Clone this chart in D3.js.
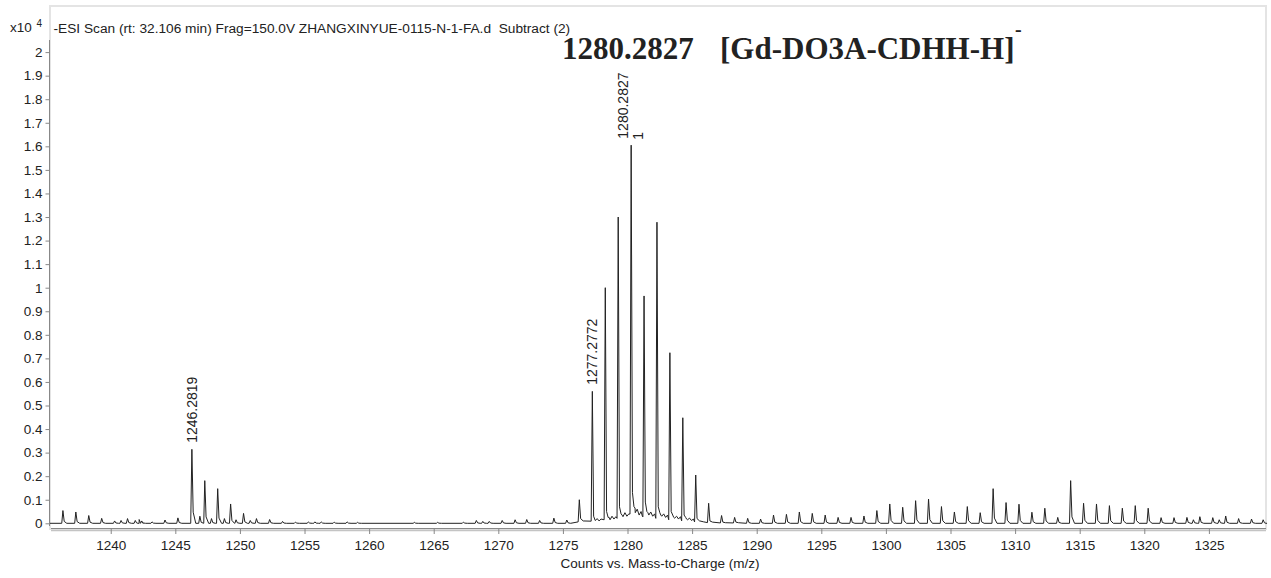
<!DOCTYPE html>
<html>
<head>
<meta charset="utf-8">
<script src="https://cdn.jsdelivr.net/npm/d3@7"></script>
<style>
  html, body { margin: 0; padding: 0; background: #fff; }
  svg { display: block; }
  text { font-family: "Liberation Sans", Arial, sans-serif; fill: #222; }
</style>
</head>
<body>
<svg id="chart" width="1271" height="578"></svg>
<script>
// ---------------- data (intensity in x10^4 counts) ----------------
const headerText = "-ESI Scan (rt: 32.106 min) Frag=150.0V ZHANGXINYUE-0115-N-1-FA.d  Subtract (2)";
const xTitle = "Counts vs. Mass-to-Charge (m/z)";
const xTicks = [1240, 1245, 1250, 1255, 1260, 1265, 1270, 1275, 1280, 1285, 1290, 1295, 1300, 1305, 1310, 1315, 1320, 1325];
const yTicks = [0, 0.1, 0.2, 0.3, 0.4, 0.5, 0.6, 0.7, 0.8, 0.9, 1, 1.1, 1.2, 1.3, 1.4, 1.5, 1.6, 1.7, 1.8, 1.9, 2];

// main isotope cluster [Gd-DO3A-CDHH-H]-
const clusterMz   = [1276.27, 1277.2772, 1278.28, 1279.28, 1280.2827, 1281.28, 1282.28, 1283.28, 1284.28, 1285.28, 1286.28, 1287.28, 1288.29];
const clusterH    = [0.10, 0.56, 1.00, 1.30, 1.605, 0.965, 1.278, 0.724, 0.448, 0.205, 0.085, 0.033, 0.025];
const clusterTail = [0.02, 0.03, 0.05, 0.07, 0.13, 0.09, 0.07, 0.05, 0.035, 0.02, 0.01, 0.005, 0.005];
// noisy raised floor inside the main cluster
const floorMz  = [1277.5, 1277.65, 1277.8, 1277.95, 1278.5, 1278.65, 1278.8, 1278.95, 1279.1,
  1279.5, 1279.65, 1279.8, 1279.95, 1280.1, 1280.5, 1280.6, 1280.75, 1280.9, 1281.05, 1281.15,
  1281.5, 1281.65, 1281.8, 1281.95, 1282.1, 1282.5, 1282.65, 1282.8, 1282.95, 1283.1,
  1283.5, 1283.65, 1283.8, 1283.95, 1284.1, 1284.5, 1284.65, 1284.8, 1284.95, 1285.1, 1285.6, 1285.9];
const floorVal = [0.012, 0.02, 0.01, 0.018, 0.025, 0.015, 0.03, 0.018, 0.028,
  0.04, 0.028, 0.045, 0.03, 0.04, 0.07, 0.045, 0.06, 0.035, 0.05, 0.03,
  0.05, 0.035, 0.048, 0.03, 0.04, 0.045, 0.03, 0.04, 0.025, 0.035,
  0.035, 0.022, 0.03, 0.018, 0.028, 0.025, 0.015, 0.022, 0.012, 0.018, 0.01, 0.006];

// other peaks across the scan
const minorMz = [1236.3, 1237.3, 1238.3, 1239.3, 1240.3, 1240.8, 1241.3, 1241.9, 1242.2, 1242.4, 1243.2, 1244.2, 1245.2,
  1246.2819, 1246.9, 1247.28, 1247.8, 1248.28, 1248.8, 1249.28, 1249.7, 1250.28, 1250.8, 1251.28, 1252.3, 1253.3, 1254.3, 1255.3, 1255.8, 1256.3, 1257.3, 1258.3, 1259.1,
  1263.5, 1265.3, 1267.3, 1268.3, 1268.8, 1269.3, 1270.3, 1271.3, 1272.2, 1273.2, 1274.3, 1275.3,
  1289.3, 1290.3, 1291.3, 1292.3, 1293.3, 1294.3, 1295.3, 1296.3, 1297.3, 1298.3, 1299.3, 1300.3, 1301.3, 1302.3, 1303.3, 1304.3, 1305.3, 1306.3, 1307.3, 1308.3, 1309.3, 1310.3, 1311.3, 1312.3, 1313.3,
  1314.3, 1315.3, 1316.3, 1317.3, 1318.3, 1319.3, 1320.3, 1321.3, 1322.3, 1323.3, 1323.8, 1324.3, 1325.3, 1325.8, 1326.3, 1327.3, 1328.3, 1329.2];
const minorH = [0.054, 0.048, 0.033, 0.021, 0.01, 0.012, 0.02, 0.012, 0.016, 0.01, 0.006, 0.014, 0.023,
  0.314, 0.03, 0.181, 0.02, 0.147, 0.02, 0.082, 0.015, 0.042, 0.012, 0.02, 0.016, 0.008, 0.005, 0.006, 0.006, 0.006, 0.005, 0.006, 0.004,
  0.004, 0.004, 0.005, 0.012, 0.008, 0.008, 0.012, 0.015, 0.016, 0.012, 0.022, 0.014,
  0.021, 0.018, 0.035, 0.038, 0.048, 0.042, 0.035, 0.025, 0.025, 0.031, 0.054, 0.082, 0.068, 0.096, 0.103, 0.071, 0.048, 0.071, 0.045, 0.147, 0.088, 0.081, 0.047, 0.064, 0.025,
  0.181, 0.085, 0.082, 0.075, 0.064, 0.075, 0.064, 0.024, 0.024, 0.025, 0.015, 0.028, 0.024, 0.015, 0.031, 0.02, 0.018, 0.015];

// peak annotations
const labelMz   = [1246.2819, 1277.2772, 1280.2827];
const labelText = ["1246.2819", "1277.2772", "1280.2827"];

// ---------------- chart ----------------
const svg = d3.select("#chart");
const x = d3.scaleLinear().domain([1235.3, 1329.42]).range([50, 1266]);
const y = d3.scaleLinear().domain([0, 2]).range([523.3, 52.1]);

// light frame
svg.append("rect").attr("x", 50).attr("y", 6).attr("width", 1216).attr("height", 523)
  .attr("fill", "none").attr("stroke", "#e4e4e4").attr("stroke-width", 2);

// build spectrum profile points from peaks
const pts = [];
const hwL = 0.09, hwR = 0.1, tailW = 0.3;
clusterMz.forEach((m, i) => {
  pts.push([m - hwL, clusterTail[i] * 0.3]);
  pts.push([m, clusterH[i]]);
  pts.push([m + hwR, clusterTail[i]]);
  pts.push([m + tailW, clusterTail[i] * 0.5]);
});
floorMz.forEach((m, i) => pts.push([m, floorVal[i]]));
minorMz.forEach((m, i) => {
  pts.push([m - hwL, 0]);
  pts.push([m, minorH[i]]);
  pts.push([m + hwR, minorH[i] * 0.15]);
  pts.push([m + tailW, 0]);
});
pts.push([x.domain()[0], 0], [x.domain()[1], 0]);
pts.sort((a, b) => a[0] - b[0]);

svg.append("path")
  .datum(pts)
  .attr("fill", "none")
  .attr("stroke", "#222")
  .attr("stroke-width", 1)
  .attr("stroke-linejoin", "round")
  .attr("d", d3.line().x(d => x(d[0])).y(d => y(d[1])));

// y axis
const yAxis = svg.append("g").attr("transform", "translate(49.5,0)")
  .call(d3.axisLeft(y).tickValues(yTicks).tickSize(4).tickPadding(3).tickFormat(d3.format("~g")));
yAxis.select(".domain").remove();
yAxis.append("line").attr("x1", 0).attr("x2", 0).attr("y1", 40).attr("y2", 526).attr("stroke", "#888");
yAxis.selectAll(".tick line").attr("stroke", "#888");
yAxis.selectAll(".tick text").attr("font-size", 13.5).attr("fill", "#222").attr("font-family", "Liberation Sans, Arial, sans-serif");

// x axis
svg.append("line").attr("x1", 51).attr("x2", 1266).attr("y1", 528.5).attr("y2", 528.5).attr("stroke", "#888").attr("stroke-width", 1);
svg.append("line").attr("x1", 51).attr("x2", 1266).attr("y1", 530.5).attr("y2", 530.5).attr("stroke", "#c4c4c4").attr("stroke-width", 1.5);
const xAxis = svg.append("g").attr("transform", "translate(0,529)")
  .call(d3.axisBottom(x).tickValues(xTicks).tickSize(5).tickPadding(6).tickFormat(d3.format("d")));
xAxis.select(".domain").remove();
xAxis.selectAll(".tick line").attr("stroke", "#888");
xAxis.selectAll(".tick text").attr("font-size", 13.5).attr("fill", "#222").attr("font-family", "Liberation Sans, Arial, sans-serif");

svg.append("text").attr("x", 660).attr("y", 568).attr("text-anchor", "middle")
  .attr("font-size", 13.5).text(xTitle);

// header
svg.append("text").attr("x", 10).attr("y", 32).attr("font-size", 13.5).text("x10");
svg.append("text").attr("x", 36.5).attr("y", 27).attr("font-size", 10).text("4");
svg.append("text").attr("x", 53.5).attr("y", 33).attr("font-size", 13.7)
  .style("white-space", "pre").text(headerText);

// big annotation
svg.append("text").attr("x", 562).attr("y", 59)
  .style("font-family", "'Liberation Serif', 'Times New Roman', serif").style("font-weight", "bold")
  .attr("font-size", 31).text("1280.2827");
svg.append("text").attr("x", 720).attr("y", 59)
  .style("font-family", "'Liberation Serif', 'Times New Roman', serif").style("font-weight", "bold")
  .attr("font-size", 31).text("[Gd-DO3A-CDHH-H]");
svg.append("text").attr("x", 1015).attr("y", 36)
  .style("font-family", "'Liberation Serif', 'Times New Roman', serif").style("font-weight", "bold")
  .attr("font-size", 20).text("-");

// peak labels (rotated)
const peakH = m => {
  const ci = clusterMz.indexOf(m);
  if (ci >= 0) return clusterH[ci];
  return minorH[minorMz.indexOf(m)];
};
labelMz.forEach((m, i) => {
  const main = labelText[i] === "1280.2827";
  const px = x(m) + (main ? -3.5 : 5);
  const py = y(peakH(m)) - 6.5;
  svg.append("text")
    .attr("transform", `translate(${px},${py}) rotate(-90)`)
    .attr("font-size", 14).attr("text-anchor", "start")
    .text(labelText[i]);
  if (main) {
    svg.append("text")
      .attr("transform", `translate(${x(m) + 11.5},${py + 1}) rotate(-90)`)
      .attr("font-size", 14).attr("text-anchor", "start")
      .text("1");
  }
});
</script>
</body>
</html>
